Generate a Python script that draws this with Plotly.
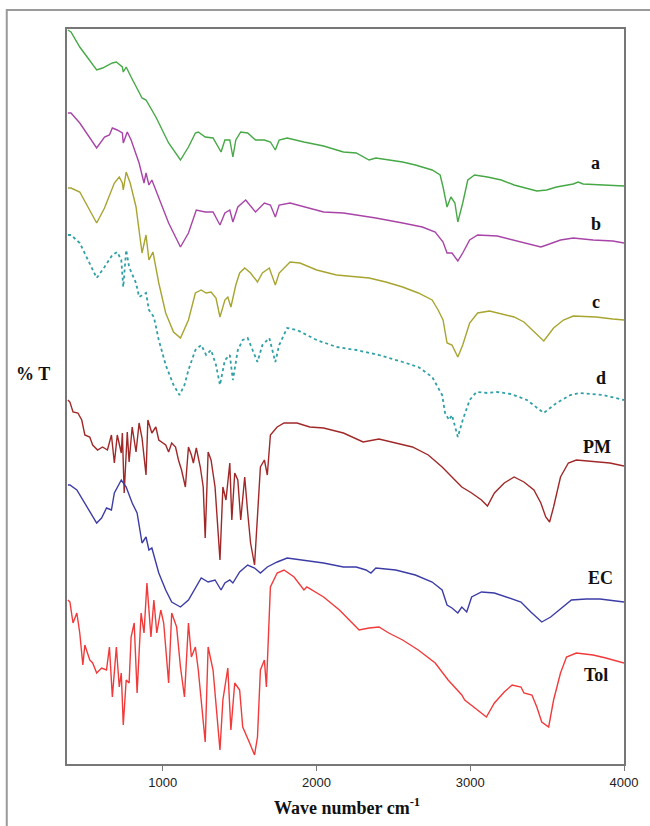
import plotly.graph_objects as go

# ---- data (wavenumber cm-1, offset %T in arbitrary stacked units) ----
a_x = [383, 403, 460, 570, 608, 672, 698, 737, 743, 762, 794, 865, 891, 955, 1038, 1115, 1167, 1212, 1231, 1276, 1327, 1379, 1404, 1436, 1456, 1475, 1507, 1552, 1603, 1661, 1700, 1732, 1757, 1809, 1918, 2046, 2175, 2258, 2342, 2386, 2560, 2643, 2752, 2804, 2823, 2849, 2874, 2900, 2919, 2951, 2984, 3028, 3112, 3202, 3285, 3369, 3433, 3497, 3561, 3670, 3702, 3734, 3927, 4000]
a_y = [734, 732, 717, 694, 696, 701, 702, 697, 692, 697, 687, 666, 664, 647, 621, 604, 617, 631, 632, 627, 626, 612, 624, 624, 607, 624, 632, 631, 624, 624, 622, 614, 624, 626, 622, 618, 612, 611, 604, 606, 602, 599, 594, 589, 577, 557, 567, 561, 542, 561, 584, 589, 587, 584, 579, 576, 573, 574, 577, 580, 582, 580, 579, 578]

b_x = [383, 403, 460, 570, 621, 653, 672, 704, 737, 743, 769, 794, 846, 878, 891, 910, 929, 974, 1038, 1115, 1167, 1218, 1276, 1327, 1372, 1404, 1436, 1456, 1488, 1539, 1603, 1661, 1700, 1732, 1757, 1828, 1956, 2046, 2175, 2258, 2386, 2560, 2688, 2772, 2823, 2849, 2881, 2919, 2951, 2996, 3048, 3176, 3285, 3369, 3459, 3497, 3587, 3670, 3799, 3927, 4000]
b_y = [651, 651, 641, 616, 627, 629, 636, 634, 631, 621, 632, 624, 601, 581, 591, 579, 584, 567, 541, 517, 531, 554, 552, 552, 539, 551, 554, 542, 557, 564, 552, 561, 559, 547, 559, 561, 556, 552, 551, 549, 546, 541, 537, 532, 522, 511, 511, 503, 511, 524, 529, 528, 524, 521, 517, 519, 524, 526, 524, 523, 521]

c_x = [383, 403, 460, 570, 621, 640, 685, 717, 737, 743, 762, 788, 826, 865, 891, 910, 936, 974, 1019, 1070, 1115, 1167, 1212, 1250, 1282, 1314, 1346, 1372, 1404, 1423, 1443, 1475, 1500, 1533, 1571, 1616, 1648, 1693, 1732, 1757, 1828, 1892, 2001, 2130, 2342, 2451, 2560, 2662, 2752, 2791, 2823, 2849, 2881, 2919, 2951, 2996, 3048, 3125, 3202, 3285, 3349, 3414, 3478, 3542, 3606, 3670, 3818, 3927, 4000]
c_y = [576, 576, 572, 541, 556, 564, 581, 587, 581, 574, 592, 581, 557, 511, 529, 504, 512, 481, 451, 432, 426, 444, 471, 474, 471, 472, 466, 447, 464, 467, 457, 479, 491, 496, 491, 482, 491, 496, 479, 491, 502, 501, 494, 489, 486, 482, 477, 471, 464, 454, 444, 421, 419, 407, 419, 441, 451, 453, 450, 447, 442, 432, 423, 436, 444, 448, 447, 445, 444]

d_x = [383, 403, 460, 570, 621, 672, 704, 730, 743, 762, 781, 826, 846, 891, 910, 942, 974, 1019, 1070, 1109, 1141, 1167, 1212, 1250, 1282, 1314, 1346, 1372, 1404, 1436, 1456, 1488, 1520, 1552, 1584, 1616, 1648, 1693, 1732, 1757, 1809, 1873, 2001, 2130, 2258, 2406, 2560, 2662, 2752, 2817, 2836, 2862, 2881, 2919, 2951, 2996, 3041, 3112, 3176, 3266, 3369, 3433, 3478, 3561, 3651, 3715, 3863, 4000]
d_y = [529, 529, 521, 486, 497, 509, 512, 504, 477, 514, 497, 481, 467, 471, 454, 447, 424, 399, 379, 369, 379, 394, 414, 419, 409, 414, 399, 379, 404, 409, 384, 414, 424, 426, 414, 402, 419, 426, 402, 419, 436, 434, 424, 417, 414, 409, 402, 397, 387, 369, 351, 344, 349, 327, 344, 364, 372, 371, 372, 370, 364, 356, 351, 361, 369, 371, 369, 364]

pm_x = [383, 396, 416, 448, 473, 493, 525, 544, 576, 608, 640, 666, 685, 704, 730, 737, 749, 769, 781, 801, 826, 846, 865, 891, 903, 929, 955, 974, 1019, 1038, 1058, 1083, 1102, 1122, 1147, 1167, 1186, 1199, 1218, 1244, 1263, 1276, 1295, 1314, 1340, 1372, 1391, 1411, 1436, 1449, 1468, 1488, 1507, 1533, 1552, 1571, 1597, 1616, 1635, 1661, 1680, 1700, 1744, 1789, 1873, 1956, 2046, 2175, 2303, 2406, 2515, 2624, 2727, 2817, 2900, 2945, 3009, 3073, 3112, 3157, 3221, 3285, 3349, 3414, 3459, 3491, 3516, 3542, 3587, 3638, 3690, 3818, 3908, 4000]
pm_y = [364, 362, 352, 351, 344, 329, 327, 319, 314, 317, 314, 329, 301, 329, 311, 331, 271, 332, 302, 337, 312, 341, 326, 289, 344, 331, 337, 324, 319, 312, 321, 317, 304, 294, 277, 317, 309, 301, 316, 297, 277, 226, 312, 304, 277, 204, 277, 264, 301, 244, 291, 284, 244, 287, 252, 221, 199, 244, 297, 304, 289, 329, 337, 341, 341, 337, 336, 331, 322, 325, 321, 317, 309, 297, 284, 277, 271, 264, 258, 271, 281, 287, 282, 274, 261, 247, 242, 257, 287, 301, 304, 302, 301, 298]

ec_x = [383, 396, 441, 480, 525, 570, 602, 634, 666, 685, 730, 762, 801, 833, 865, 891, 910, 929, 974, 1019, 1058, 1115, 1167, 1212, 1250, 1295, 1340, 1379, 1404, 1436, 1456, 1500, 1552, 1597, 1635, 1680, 1744, 1809, 1892, 2046, 2175, 2258, 2322, 2354, 2386, 2515, 2643, 2752, 2817, 2849, 2881, 2919, 2945, 2977, 3009, 3073, 3157, 3240, 3330, 3394, 3465, 3523, 3606, 3658, 3754, 3844, 4000]
ec_y = [279, 279, 274, 264, 252, 241, 246, 256, 254, 271, 284, 277, 261, 251, 221, 227, 214, 216, 191, 174, 162, 157, 164, 176, 186, 182, 184, 174, 181, 184, 181, 192, 199, 196, 191, 197, 202, 206, 204, 201, 197, 197, 194, 191, 196, 194, 189, 182, 174, 159, 156, 151, 157, 152, 167, 172, 171, 167, 162, 152, 142, 147, 157, 164, 165, 165, 162]

tol_x = [383, 396, 416, 441, 460, 480, 493, 525, 544, 570, 602, 634, 653, 672, 698, 717, 730, 743, 762, 781, 794, 814, 833, 859, 878, 897, 923, 942, 961, 987, 1006, 1038, 1058, 1090, 1115, 1141, 1167, 1186, 1212, 1231, 1276, 1295, 1327, 1372, 1391, 1423, 1443, 1468, 1500, 1520, 1565, 1597, 1616, 1635, 1661, 1674, 1700, 1744, 1789, 1854, 1918, 1937, 2046, 2149, 2213, 2277, 2342, 2406, 2470, 2560, 2662, 2772, 2856, 2945, 2964, 3028, 3105, 3157, 3221, 3272, 3330, 3349, 3401, 3433, 3465, 3510, 3542, 3587, 3626, 3690, 3799, 3882, 4000]
tol_y = [164, 162, 141, 151, 131, 99, 119, 104, 101, 91, 96, 94, 117, 67, 117, 77, 91, 39, 84, 81, 127, 141, 71, 151, 131, 181, 127, 164, 131, 154, 141, 81, 151, 137, 97, 67, 141, 107, 117, 94, 22, 117, 94, 14, 64, 96, 34, 81, 74, 37, 21, 9, 27, 94, 104, 77, 177, 191, 194, 187, 174, 177, 167, 154, 144, 134, 136, 137, 131, 124, 114, 101, 84, 69, 64, 56, 47, 61, 72, 79, 77, 71, 69, 57, 42, 37, 64, 91, 107, 111, 109, 106, 101]

series = [
    ("a", a_x, a_y, "#46A846", "solid"),
    ("b", b_x, b_y, "#A844A8", "solid"),
    ("c", c_x, c_y, "#A8A430", "solid"),
    ("d", d_x, d_y, "#2FA0A6", "dot"),
    ("PM", pm_x, pm_y, "#A02828", "solid"),
    ("EC", ec_x, ec_y, "#3C3CA6", "solid"),
    ("Tol", tol_x, tol_y, "#F23A3A", "solid"),
]
label_pos = {"a": (602, 163), "b": (603, 224), "c": (603, 302), "d": (608, 378),
             "PM": (604, 447), "EC": (607, 578), "Tol": (603, 675)}

# plot area in window pixels (page margin removed by post_script)
L, R, T, B = 67, 631, 29, 764
W, H = 650, 826

def px(x):
    return (x - L) / (R - L)

def py(y):
    return (B - y) / (B - T)

fig = go.Figure()
for name, xs, ys, col, dash in series:
    fig.add_trace(go.Scatter(x=xs, y=ys, mode="lines", name=name,
                             line=dict(color=col, width=1.4 if dash == "solid" else 1.8, dash=dash),
                             showlegend=False, hoverinfo="skip"))

annots = []
for name, (lx, ly) in label_pos.items():
    annots.append(dict(x=px(lx), y=py(ly), xref="paper", yref="paper", text="<b>%s</b>" % name,
                       showarrow=False, xanchor="center", yanchor="middle",
                       font=dict(family="Liberation Serif", size=18, color="#111")))
annots.append(dict(x=px(33), y=py(374), xref="paper", yref="paper", text="<b>% T</b>",
                   showarrow=False, xanchor="center", yanchor="middle",
                   font=dict(family="Liberation Serif", size=18, color="#111")))
annots.append(dict(x=px(351), y=py(806), xref="paper", yref="paper",
                   text="<b>Wave number cm<sup>-1</sup></b>",
                   showarrow=False, xanchor="center", yanchor="middle",
                   font=dict(family="Liberation Serif", size=18, color="#111")))

fig.update_layout(
    width=W, height=H, autosize=False,
    margin=dict(l=L, r=W - R, t=T, b=H - B),
    paper_bgcolor="white", plot_bgcolor="white",
    annotations=annots,
    shapes=[dict(type="rect", xref="paper", yref="paper",
                 x0=px(6), x1=px(660), y0=py(836), y1=py(10),
                 line=dict(color="#9a9a9a", width=2))],
    xaxis=dict(range=[377, 4000], showgrid=False, zeroline=False,
               showline=True, mirror=True, linecolor="#777", linewidth=2,
               tickmode="array", tickvals=[1000, 2000, 3000, 4000],
               ticktext=["1000", "2000", "3000", "4000"],
               ticks="outside", ticklen=5, tickcolor="#777", tickwidth=1,
               tickfont=dict(family="Liberation Sans", size=13, color="#222")),
    yaxis=dict(range=[0, 735], showgrid=False, zeroline=False,
               showline=True, mirror=True, linecolor="#777", linewidth=2,
               showticklabels=False, ticks=""),
)

fig.write_html("out.html",
               config={"responsive": False, "displayModeBar": False},
               post_script="document.documentElement.style.overflow='hidden';"
                           "document.body.style.margin='0';document.body.style.overflow='hidden';")
